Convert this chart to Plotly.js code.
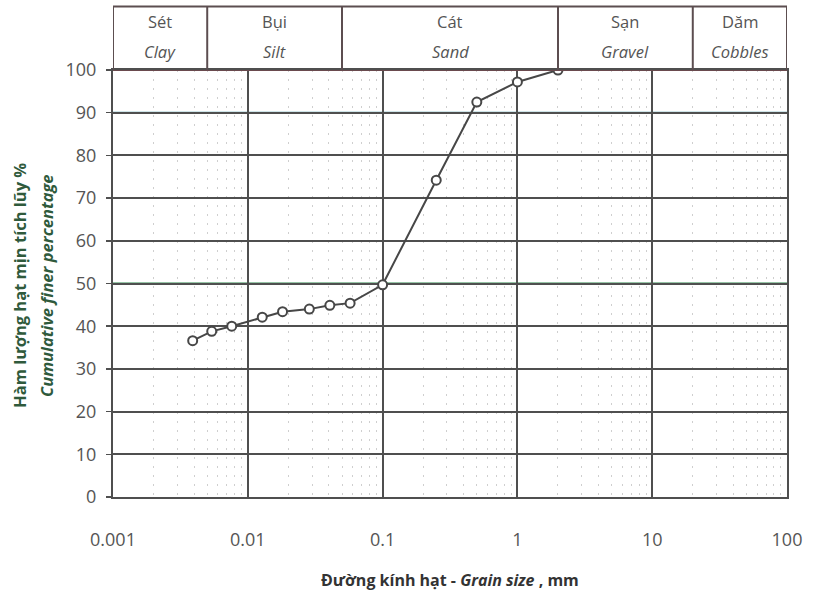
<!DOCTYPE html>
<html>
<head>
<meta charset="utf-8">
<script src="https://cdn.plot.ly/plotly-3.0.1.min.js"></script>
<style>
  html, body { margin: 0; padding: 0; background: #fff; }
  #chart { width: 814px; height: 592px; }
</style>
</head>
<body>
<div id="chart"></div>
<script>
// Grain size distribution (cumulative percent finer vs. grain diameter)
const grainSize = [0.0039, 0.0054, 0.0076, 0.0128, 0.0181, 0.0286, 0.0406, 0.0574, 0.1, 0.25, 0.5, 1, 2];
const percentFiner = [36.6, 38.8, 40.0, 42.1, 43.4, 44.0, 44.9, 45.4, 49.7, 74.2, 92.5, 97.2, 100];

// Soil class bands along the grain-size axis (mm)
const classBounds = [0.001, 0.005, 0.05, 2, 20, 100];
const classNamesVi = ['Sét', 'Bụi', 'Cát', 'Sạn', 'Dăm'];
const classNamesEn = ['Clay', 'Silt', 'Sand', 'Gravel', 'Cobbles'];

const xTickVals = [0.001, 0.01, 0.1, 1, 10, 100];
const xTickText = ['0.001', '0.01', '0.1', '1', '10', '100'];
const yTickVals = [0, 10, 20, 30, 40, 50, 60, 70, 80, 90, 100];

const FONT = 'Open Sans, Noto Sans, sans-serif';
const GRID = '#4f4f4f';

const shapes = [];
const annotations = [];

// header table above the plot
const headerTop = 1.149;
const borderColor = '#5c4e50';
shapes.push({type: 'line', xref: 'x', yref: 'paper', x0: classBounds[0], x1: classBounds[classBounds.length - 1],
  y0: headerTop, y1: headerTop, line: {color: borderColor, width: 2}});
classBounds.forEach(b => {
  shapes.push({type: 'line', xref: 'x', yref: 'paper', x0: b, x1: b, y0: 1, y1: headerTop,
    line: {color: borderColor, width: 2}});
});
for (let i = 0; i < classNamesVi.length; i++) {
  const xc = Math.log10(Math.sqrt(classBounds[i] * classBounds[i + 1]));
  annotations.push({xref: 'x', yref: 'paper', x: xc, y: 1.114, text: classNamesVi[i],
    showarrow: false, font: {family: FONT, size: 16.5, color: '#555'}, xanchor: 'center', yanchor: 'middle'});
  annotations.push({xref: 'x', yref: 'paper', x: xc, y: 1.043, text: '<i>' + classNamesEn[i] + '</i>',
    showarrow: false, font: {family: FONT, size: 16.5, color: '#555'}, xanchor: 'center', yanchor: 'middle'});
}

// coloured reference lines at 50 % and 90 %, and the top border
shapes.push({type: 'line', xref: 'paper', yref: 'y', x0: 0, x1: 1, y0: 50, y1: 50, layer: 'below',
  line: {color: '#2f8a4f', width: 2}});
shapes.push({type: 'line', xref: 'paper', yref: 'y', x0: 0, x1: 1, y0: 90, y1: 90, layer: 'below',
  line: {color: '#3f92a2', width: 2}});
shapes.push({type: 'line', xref: 'paper', yref: 'y', x0: 0, x1: 1, y0: 100, y1: 100, layer: 'above',
  line: {color: '#6a4a4e', width: 2}});

// axis titles
annotations.push({xref: 'paper', yref: 'paper', x: -0.139, y: 0.495, textangle: -90,
  text: '<b>Hàm lượng hạt mịn tích lũy %</b>', showarrow: false,
  font: {family: FONT, size: 16.5, color: '#2f5a3c'}, xanchor: 'center', yanchor: 'middle'});
annotations.push({xref: 'paper', yref: 'paper', x: -0.099, y: 0.495, textangle: -90,
  text: '<b><i>Cumulative finer percentage</i></b>', showarrow: false,
  font: {family: FONT, size: 16.5, color: '#2f5a3c'}, xanchor: 'center', yanchor: 'middle'});
annotations.push({xref: 'paper', yref: 'paper', x: 0.5, y: -0.195,
  text: '<b>Đường kính hạt - <i>Grain size</i> , mm</b>', showarrow: false,
  font: {family: FONT, size: 16, color: '#333'}, xanchor: 'center', yanchor: 'middle'});

const trace = {
  x: grainSize, y: percentFiner, type: 'scatter', mode: 'lines+markers',
  line: {color: '#474747', width: 2},
  marker: {symbol: 'circle', size: 9, color: '#fff', line: {color: '#474747', width: 2}},
  hoverinfo: 'x+y'
};

const layout = {
  width: 814, height: 592,
  margin: {l: 113, r: 27, t: 70, b: 95},
  paper_bgcolor: '#fff', plot_bgcolor: '#fff',
  showlegend: false,
  font: {family: FONT, color: '#555'},
  xaxis: {
    type: 'log', range: [-3, 2],
    tickvals: xTickVals, ticktext: xTickText,
    tickfont: {family: FONT, size: 18, color: '#555'},
    ticks: '', ticklabelstandoff: 25,
    showgrid: true, gridcolor: GRID, gridwidth: 2,
    showline: true, linecolor: GRID, linewidth: 2, mirror: true,
    minor: {dtick: 'D1', showgrid: true, gridcolor: '#cfcfcf', gridwidth: 1, griddash: '2px,7px', ticks: ''},
    zeroline: false, fixedrange: true
  },
  yaxis: {
    range: [0, 100], tickvals: yTickVals,
    tickfont: {family: FONT, size: 18, color: '#555'},
    ticks: 'outside', ticklen: 5, tickcolor: GRID, tickwidth: 1.5,
    ticklabelstandoff: 6,
    showgrid: true, gridcolor: GRID, gridwidth: 2,
    showline: true, linecolor: GRID, linewidth: 2, mirror: true,
    zeroline: false, fixedrange: true
  },
  shapes: shapes,
  annotations: annotations
};

Plotly.newPlot('chart', [trace], layout, {displayModeBar: false, staticPlot: true});
</script>
</body>
</html>
